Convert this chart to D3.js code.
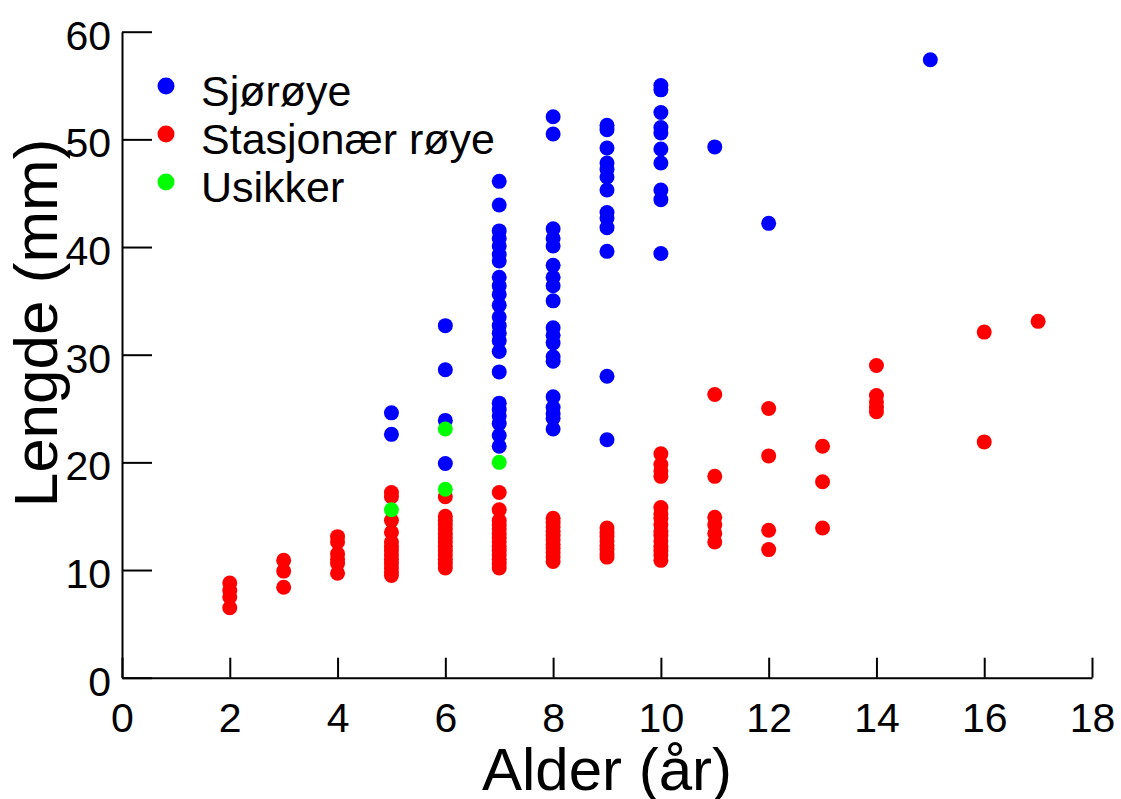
<!DOCTYPE html>
<html><head><meta charset="utf-8">
<script src="https://cdn.jsdelivr.net/npm/d3@7"></script>
<style>body{margin:0;background:#fff}svg{display:block;font-family:"Liberation Sans",Arial,sans-serif}</style>
</head><body><svg id="c" width="1121" height="799"></svg>
<script>
// Data: [age (år), length (mm)]
const sjoroye = [
 [5,24.6],[5,22.6],
 [6,32.7],[6,28.6],[6,23.9],[6,19.9],
 [7,46.1],[7,43.9],[7,41.5],[7,40.8],[7,40.1],[7,39.3],[7,38.7],[7,37.2],[7,36.4],[7,35.6],[7,34.6],[7,33.5],[7,32.7],[7,32.0],[7,31.3],[7,30.3],[7,28.4],[7,25.5],[7,24.9],[7,24.3],[7,23.6],[7,22.5],[7,21.5],
 [8,52.1],[8,50.5],[8,41.7],[8,40.8],[8,40.1],[8,38.3],[8,37.2],[8,36.4],[8,35.0],[8,32.5],[8,31.8],[8,31.1],[8,29.8],[8,29.4],[8,26.1],[8,25.1],[8,24.5],[8,24.1],[8,23.1],
 [9,51.3],[9,50.9],[9,49.2],[9,47.8],[9,47.2],[9,46.5],[9,45.3],[9,43.2],[9,42.7],[9,41.8],[9,39.6],[9,28.0],[9,22.1],
 [10,55.0],[10,54.6],[10,52.5],[10,51.1],[10,50.6],[10,49.1],[10,47.8],[10,45.3],[10,44.4],[10,39.4],
 [11,49.3],[12,42.2],[15,57.4]
];
const stasjonaer = [
 [2,8.8],[2,8.1],[2,7.5],[2,6.5],
 [3,10.9],[3,9.9],[3,8.4],
 [4,13.1],[4,12.6],[4,11.5],[4,11.0],[4,10.6],[4,9.7],
 [5,17.2],[5,16.8],[5,14.6],[5,13.5],[5,12.6],[5,12.2],[5,11.8],[5,11.4],[5,11.0],[5,10.6],[5,10.2],[5,9.8],[5,9.5],
 [6,16.8],[6,15.0],[6,14.6],[6,14.2],[6,13.8],[6,13.4],[6,13.0],[6,12.6],[6,12.2],[6,11.8],[6,11.4],[6,11.0],[6,10.6],[6,10.2],
 [7,17.2],[7,15.6],[7,14.6],[7,14.2],[7,13.8],[7,13.4],[7,13.0],[7,12.6],[7,12.2],[7,11.8],[7,11.4],[7,11.0],[7,10.6],[7,10.2],
 [8,14.8],[8,14.4],[8,14.0],[8,13.6],[8,13.2],[8,12.8],[8,12.4],[8,12.0],[8,11.6],[8,11.2],[8,10.8],
 [9,13.9],[9,13.5],[9,13.1],[9,12.7],[9,12.3],[9,11.9],[9,11.5],[9,11.2],
 [10,20.8],[10,19.8],[10,19.2],[10,18.7],[10,15.8],[10,15.2],[10,14.8],[10,14.2],[10,13.6],[10,13.2],[10,12.7],[10,12.2],[10,11.8],[10,11.4],[10,10.9],
 [11,26.3],[11,18.7],[11,14.9],[11,14.2],[11,13.4],[11,12.6],
 [12,25.0],[12,20.6],[12,13.7],[12,11.9],
 [13,21.5],[13,18.2],[13,13.9],
 [14,29.0],[14,26.2],[14,25.6],[14,25.1],[14,24.7],
 [16,32.1],[16,21.9],
 [17,33.1]
];
const usikker = [[5,15.6],[6,23.1],[6,17.5],[7,20.0]];
const seriesNames = ["Sjørøye","Stasjonær røye","Usikker"];
const seriesColors = ["#0000ff","#ff0000","#00ff00"];
const xTicks = [0,2,4,6,8,10,12,14,16,18];
const yTicks = [0,10,20,30,40,50,60];
const xTitle = "Alder (år)";
const yTitle = "Lengde (mm)";

const svg = d3.select("#c");
const x = d3.scaleLinear().domain([0,18]).range([122,1092]);
const y = d3.scaleLinear().domain([0,60]).range([677.7,31.7]);

// axes
const xAxis = svg.append("g").attr("transform",`translate(0,${y(0)})`)
  .call(d3.axisBottom(x).tickValues(xTicks).tickSize(-20).tickPadding(0).tickSizeOuter(0));
xAxis.select(".domain").attr("stroke","#000").attr("stroke-width",2);
xAxis.selectAll(".tick line").attr("stroke","#000").attr("stroke-width",2);
xAxis.selectAll(".tick text").attr("font-size",41).attr("fill","#000")
  .attr("dy",null)
  .attr("y",732-677.7).attr("font-family","Liberation Sans, Arial, sans-serif");

const yAxis = svg.append("g").attr("transform",`translate(${x(0)},0)`)
  .call(d3.axisLeft(y).tickValues(yTicks).tickSize(-30).tickPadding(0).tickSizeOuter(0));
yAxis.select(".domain").attr("stroke","#000").attr("stroke-width",2);
yAxis.selectAll(".tick line").attr("stroke","#000").attr("stroke-width",2);
yAxis.selectAll(".tick text").attr("font-size",41).attr("fill","#000")
  .attr("x",-11).attr("dy",null).attr("y",17.5).attr("font-family","Liberation Sans, Arial, sans-serif");

// titles
svg.append("text").attr("x",(x(0)+x(18))/2).attr("y",790).attr("text-anchor","middle")
  .attr("font-size",60).attr("fill","#000").text(xTitle);
svg.append("text").attr("transform","translate(57,323) rotate(-90)").attr("text-anchor","middle")
  .attr("font-size",62).attr("fill","#000").text(yTitle);

// points
const all = [sjoroye, stasjonaer, usikker];
all.forEach((d,i)=>{
  svg.append("g").selectAll("circle").data(d).join("circle")
    .attr("cx",p=>x(p[0])).attr("cy",p=>y(p[1])).attr("r",7.5)
    .attr("fill",seriesColors[i]);
});

// legend
const lg = svg.append("g");
seriesNames.forEach((n,i)=>{
  lg.append("circle").attr("cx",166).attr("cy",86+48*i).attr("r",8.5).attr("fill",seriesColors[i]);
  lg.append("text").attr("x",201).attr("y",106+48*i).attr("font-size",43).attr("fill","#000").text(n);
});
</script></body></html>
